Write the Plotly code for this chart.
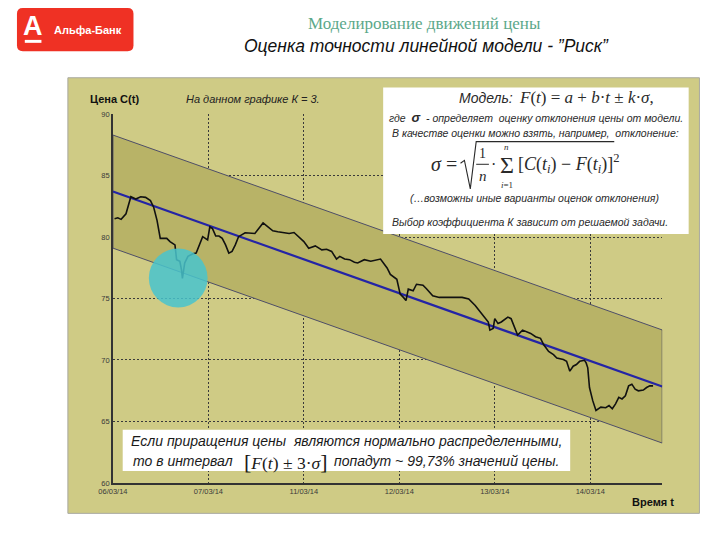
import plotly.graph_objects as go

# ---------------- data ----------------
tick_positions = [0, 1, 2, 3, 4, 5]
tick_labels = ["06/03/14", "07/03/14", "11/03/14", "12/03/14", "13/03/14", "14/03/14"]
y_ticks = [60, 65, 70, 75, 80, 85, 90]

# trading-time position (in days from 06/03/14) and price C(t)
time_pos = [0.017, 0.051, 0.086, 0.137, 0.188, 0.239, 0.291, 0.342, 0.393, 0.427,
            0.462, 0.496, 0.564, 0.598, 0.650, 0.667, 0.701, 0.718, 0.728, 0.752,
            0.786, 0.838, 0.872, 0.906, 0.940, 0.992, 1.015, 1.043, 1.077, 1.111,
            1.145, 1.180, 1.214, 1.248, 1.282, 1.316, 1.385, 1.487, 1.539, 1.573,
            1.624, 1.675, 1.727, 1.795, 1.846, 1.897, 1.949, 2.000, 2.051, 2.120,
            2.188, 2.239, 2.291, 2.342, 2.376, 2.427, 2.479, 2.530, 2.564, 2.633,
            2.701, 2.803, 2.872, 2.906, 2.974, 3.009, 3.043, 3.070, 3.094, 3.145,
            3.180, 3.248, 3.282, 3.350, 3.419, 3.521, 3.590, 3.658, 3.727, 3.795,
            3.863, 3.932, 3.949, 3.983, 4.000, 4.034, 4.068, 4.137, 4.171, 4.205,
            4.239, 4.291, 4.342, 4.376, 4.427, 4.479, 4.513, 4.564, 4.615, 4.650,
            4.718, 4.752, 4.786, 4.821, 4.855, 4.889, 4.940, 4.957, 4.974, 4.992,
            5.026, 5.060, 5.111, 5.162, 5.197, 5.231, 5.265, 5.299, 5.333, 5.368,
            5.402, 5.436, 5.470, 5.504, 5.556, 5.590, 5.624, 5.658]
price = [81.49, 81.57, 81.44, 81.89, 83.28, 83.09, 83.28, 83.23, 82.96, 82.43,
         81.36, 79.89, 79.89, 79.63, 79.36, 78.16, 78.03, 77.36, 76.64, 77.89,
         78.43, 78.64, 78.69, 79.36, 80.03, 79.76, 80.83, 80.69, 80.08, 80.08,
         79.89, 79.36, 78.69, 78.83, 79.36, 80.03, 80.35, 80.29, 80.83, 81.15,
         80.83, 80.51, 80.43, 80.35, 80.29, 80.37, 80.03, 79.63, 79.09, 79.28,
         78.96, 79.01, 78.83, 78.21, 78.43, 78.21, 78.16, 77.95, 77.89, 78.16,
         78.03, 78.21, 77.49, 76.96, 76.56, 75.36, 75.09, 74.83, 75.76, 75.63,
         76.16, 76.08, 75.81, 75.23, 75.09, 75.09, 75.15, 75.09, 74.96, 74.43,
         73.76, 73.09, 72.43, 72.56, 73.36, 72.96, 73.09, 73.49, 73.36, 72.69,
         72.03, 72.43, 72.29, 72.16, 71.89, 71.76, 71.23, 70.69, 70.43, 70.16,
         70.03, 69.89, 69.09, 69.49, 69.63, 69.89, 69.97, 69.76, 69.36, 67.76,
         66.69, 65.89, 66.16, 66.11, 66.29, 66.03, 66.43, 66.96, 66.83, 67.09,
         67.89, 68.03, 67.63, 67.49, 67.55, 67.76, 67.89, 67.89]

# linear model F(t) = a + b*t, band +- k*sigma (K = 3)
model_a = 83.7
model_b = -2.756
k_sigma = 4.6
t_end = 5.754

# highlighted point (circle)
circle_t, circle_price = 0.684, 76.67

# ---------------- helpers ----------------
W, H = 720, 540
def px(x):
    return x / W
def py(y):
    return 1 - y / H

SANS = "Liberation Sans"
SERIF = "Liberation Serif"
PANEL = "#cfcb85"
BAND = "#b8b367"
TXT = "#2a2a2a"

fig = go.Figure()

# band
f0 = model_a
f1 = model_a + model_b * t_end
fig.add_trace(go.Scatter(
    x=[0, t_end, t_end, 0, 0],
    y=[f0 + k_sigma, f1 + k_sigma, f1 - k_sigma, f0 - k_sigma, f0 + k_sigma],
    mode="lines", fill="toself", fillcolor=BAND,
    line=dict(color="#4e4e68", width=1), hoverinfo="skip"))
# model line
fig.add_trace(go.Scatter(x=[0, t_end], y=[f0, f1], mode="lines",
                         line=dict(color="#2424a6", width=2.2), hoverinfo="skip"))
# price
fig.add_trace(go.Scatter(x=time_pos, y=price, mode="lines",
                         line=dict(color="#111111", width=1.6)))

shapes = []
# outer panel
shapes.append(dict(type="rect", xref="paper", yref="paper", layer="below",
                   x0=px(54), x1=px(699), y0=py(518), y1=py(75),
                   fillcolor=PANEL, line=dict(color="#a8a8a0", width=1)))
# circle
rx = 30 / 97.5
ry = 30 / 12.5
shapes.append(dict(type="circle", xref="x", yref="y", layer="above",
                   x0=circle_t - rx, x1=circle_t + rx,
                   y0=circle_price - ry, y1=circle_price + ry,
                   fillcolor="rgb(72,196,206)", opacity=0.85, line=dict(width=0)))
# formula box
shapes.append(dict(type="rect", xref="paper", yref="paper", layer="above",
                   x0=px(376), x1=px(688), y0=py(234), y1=py(85),
                   fillcolor="white", line=dict(width=0)))
# bottom box
shapes.append(dict(type="rect", xref="paper", yref="paper", layer="above",
                   x0=px(110), x1=px(567), y0=py(475), y1=py(433),
                   fillcolor="white", line=dict(width=0)))
# radical sign
pts = [(455, 162), (459, 159), (465, 188), (471, 140), (612, 140)]
path = "M " + " L ".join(f"{px(a):.5f},{py(b):.5f}" for a, b in pts)
shapes.append(dict(type="path", xref="paper", yref="paper", layer="above",
                   path=path, line=dict(color=TXT, width=1.1)))
# fraction bar
shapes.append(dict(type="line", xref="paper", yref="paper", layer="above",
                   x0=px(471), x1=px(484), y0=py(163), y1=py(163),
                   line=dict(color=TXT, width=1)))
# logo
r = 6
x0, x1, y0, y1 = 2, 121, 4, 48
lp = [f"M {px(x0+r)},{py(y0)}", f"L {px(x1-r)},{py(y0)}",
      f"Q {px(x1)},{py(y0)} {px(x1)},{py(y0+r)}", f"L {px(x1)},{py(y1-r)}",
      f"Q {px(x1)},{py(y1)} {px(x1-r)},{py(y1)}", f"L {px(x0+r)},{py(y1)}",
      f"Q {px(x0)},{py(y1)} {px(x0)},{py(y1-r)}", f"L {px(x0)},{py(y0+r)}",
      f"Q {px(x0)},{py(y0)} {px(x0+r)},{py(y0)}", "Z"]
shapes.append(dict(type="path", xref="paper", yref="paper", path=" ".join(lp),
                   fillcolor="#ef3124", line=dict(width=0), layer="above"))
shapes.append(dict(type="rect", xref="paper", yref="paper", layer="above",
                   x0=px(10), x1=px(27), y0=py(39.5), y1=py(36.5),
                   fillcolor="white", line=dict(width=0)))

ann = []
def A(text, x, y, size, family=SANS, color=TXT, xanchor="center"):
    ann.append(dict(text=text, x=px(x), y=py(y), xref="paper", yref="paper",
                    xanchor=xanchor, yanchor="middle", showarrow=False,
                    font=dict(size=size, family=family, color=color)))

# logo text
A("<b>А</b>", 18.5, 22, 27, SANS, "white")
A("<b>Альфа-Банк</b>", 38, 26, 11, SANS, "white", "left")
# titles
A("Моделирование движений цены", 418, 20, 17, SERIF, "#5ba88a")
A("<i>Оценка точности линейной модели - ”Риск”</i>", 420, 43, 17.5, SANS, "#111111")
# axis captions
A("<b>Цена С(t)</b>", 75, 97, 11, SANS, "#111111", "left")
A("<i>На данном графике К = 3.</i>", 173, 97, 11, SANS, "#222222", "left")
A("<b>Время t</b>", 675, 506, 11, SANS, "#111111", "right")
# formula box
A("<i>Модель:</i>", 511, 96, 14, SANS, TXT, "right")
A("<i>F</i>(<i>t</i>) = <i>a</i> + <i>b</i>·<i>t</i> ± <i>k</i>·<i>σ</i>,", 513, 95, 17, SERIF, TXT, "left")
A("<i>где  <span style='font-size:13px'><b>σ</b></span>  - определяет  оценку отклонения цены от модели.</i>",
  380, 115, 10.5, SANS, TXT, "left")
A("<i>В качестве оценки можно взять, например,  отклонение:</i>", 383, 131, 10.5, SANS, TXT, "left")
A("<i>σ</i> =", 453, 163, 20, SERIF, TXT, "right")
A("1", 477.5, 152, 14, SERIF, TXT)
A("<i>n</i>", 477.5, 175, 15, SERIF, TXT)
A("·", 489, 163, 16, SERIF, TXT)
A("Σ", 502, 164, 24, SERIF, TXT)
A("<i>n</i>", 502, 145, 9, SERIF, TXT)
A("<i>i</i>=1", 502, 184, 9, SERIF, TXT)
A("[<i>C</i>(<i>t</i><sub><i>i</i></sub>) − <i>F</i>(<i>t</i><sub><i>i</i></sub>)]<sup>2</sup>",
  512, 162, 18, SERIF, TXT, "left")
A("<i>(…возможны иные варианты оценок отклонения)</i>", 531, 197, 10.5, SANS, TXT)
A("<i>Выбор коэффициента К зависит от решаемой задачи.</i>", 383, 222, 10.5, SANS, TXT, "left")
# bottom box
A("<i>Если приращения цены  являются нормально распределенными,</i>", 339, 444, 14, SANS, "#1a1a1a")
A("<i>то в интервал</i>", 225, 465, 14, SANS, "#1a1a1a", "right")
A("<span style='font-size:22px'>[</span><i>F</i>(<i>t</i>) ± 3·<i>σ</i><span style='font-size:22px'>]</span>",
  232, 465, 17.5, SERIF, "#1a1a1a", "left")
A("<i>попадут ~ 99,73% значений цены.</i>", 324, 465, 14, SANS, "#1a1a1a", "left")

fig.update_layout(
    width=W, height=H, margin=dict(l=0, r=0, t=0, b=0),
    paper_bgcolor="white", plot_bgcolor=PANEL, showlegend=False,
    shapes=shapes, annotations=ann,
    xaxis=dict(domain=[px(100), px(661)], range=[0, t_end],
               tickvals=tick_positions, ticktext=tick_labels,
               tickfont=dict(size=7.5, family=SANS, color="#3a3a3a"),
               showgrid=True, gridcolor="#3a3a3a", griddash="2px,2px", gridwidth=1,
               showline=True, linecolor="#333333", linewidth=1.5,
               zeroline=False, ticks="", fixedrange=True),
    yaxis=dict(domain=[py(487), py(112)], range=[60, 90], tickvals=y_ticks,
               tickfont=dict(size=7.5, family=SANS, color="#3a3a3a"),
               showgrid=True, gridcolor="#3a3a3a", griddash="2px,2px", gridwidth=1,
               showline=True, linecolor="#333333", linewidth=1.5,
               zeroline=False, ticks="", fixedrange=True),
)

fig.write_html("out.html")
